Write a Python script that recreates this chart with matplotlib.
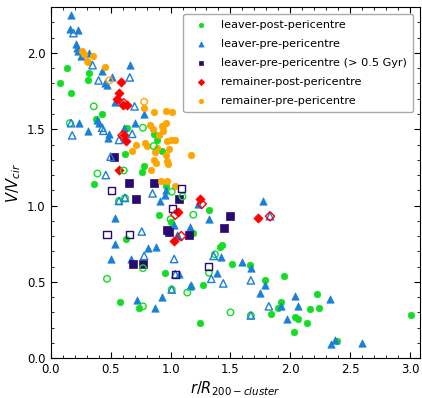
import matplotlib
matplotlib.use('Agg')
import matplotlib.pyplot as plt
from matplotlib.ticker import MultipleLocator


# ---------------------------------------------------------------------------- #
#                                     Data                                     #
# ---------------------------------------------------------------------------- #
# leaver-post-pericentre
lpost_x = [0.08, 0.14, 0.17, 0.32, 0.31, 0.43, 0.38, 0.36, 0.62, 0.64, 0.78, 0.76,
           0.86, 0.89, 0.93, 0.96, 0.90, 1.00, 1.32, 1.19, 0.63, 1.41, 0.58, 0.74,
           0.95, 1.43, 1.51, 1.66, 1.27, 1.25, 1.79, 1.95, 1.92, 1.90, 1.84, 2.04,
           2.06, 2.03, 2.16, 2.14, 2.22, 2.24, 2.39, 3.01]
lpost_y = [1.80, 1.90, 1.74, 1.87, 1.82, 1.60, 1.57, 1.14, 1.34, 1.51, 1.26, 1.22,
           1.47, 1.43, 1.36, 1.13, 0.94, 0.89, 0.97, 0.82, 0.78, 0.73, 0.37, 0.33,
           0.56, 0.74, 0.62, 0.61, 0.48, 0.23, 0.51, 0.54, 0.37, 0.33, 0.29, 0.27,
           0.26, 0.17, 0.32, 0.23, 0.42, 0.33, 0.11, 0.28]
lpost_open_x = [0.36, 0.77, 0.86, 0.39, 0.61, 1.01, 1.19, 1.00, 0.62, 1.10, 0.16,
                0.57, 0.47, 0.77, 0.77, 1.01, 1.14, 1.37, 1.32, 1.50, 1.67]
lpost_open_y = [1.65, 1.51, 1.39, 1.21, 1.23, 1.09, 0.94, 0.91, 1.05, 1.06, 1.54,
                1.03, 0.52, 0.59, 0.34, 0.45, 0.43, 0.68, 0.56, 0.30, 0.28]

# leaver-pre-pericentre
lpre_x = [0.17, 0.16, 0.23, 0.21, 0.22, 0.23, 0.25, 0.32, 0.43, 0.51, 0.45, 0.47,
          0.66, 0.54, 0.78, 0.24, 0.31, 0.39, 0.40, 0.49, 0.48, 0.61, 0.70, 0.54,
          0.91, 0.95, 0.96, 1.23, 1.32, 1.03, 1.16, 1.06, 0.81, 0.88, 1.77, 0.54,
          0.50, 0.67, 1.07, 0.72, 0.93, 0.87, 1.05, 1.16, 1.42, 1.39, 1.17, 1.60,
          1.67, 1.75, 1.79, 1.92, 1.97, 2.04, 2.06, 2.33, 2.37, 2.34, 2.60]
lpre_y = [2.25, 2.16, 2.15, 2.06, 2.03, 2.01, 1.98, 2.00, 1.88, 1.84, 1.80, 1.79,
          1.92, 1.68, 1.60, 1.54, 1.49, 1.56, 1.54, 1.47, 1.44, 1.51, 1.54, 0.92,
          1.03, 1.07, 1.10, 1.01, 0.91, 0.87, 0.86, 0.80, 0.72, 0.73, 1.03, 0.75,
          0.65, 0.65, 0.55, 0.38, 0.40, 0.33, 0.81, 0.47, 0.66, 0.56, 0.48, 0.63,
          0.59, 0.43, 0.48, 0.34, 0.26, 0.41, 0.34, 0.39, 0.12, 0.09, 0.10]
lpre_open_x = [0.19, 0.35, 0.40, 0.66, 0.70, 0.17, 0.18, 0.43, 0.44, 0.57, 0.50,
               0.46, 0.57, 0.62, 0.68, 0.85, 0.76, 0.78, 1.03, 1.36, 1.01, 1.04,
               1.34, 1.44, 1.67, 1.82, 1.67, 1.83]
lpre_open_y = [2.13, 1.92, 1.82, 1.84, 1.65, 1.54, 1.46, 1.51, 1.49, 1.43, 1.32,
               1.20, 1.03, 1.05, 1.47, 1.08, 0.83, 0.67, 0.65, 0.67, 0.45, 0.55,
               0.52, 0.49, 0.51, 0.34, 0.28, 0.93]

# leaver-pre-pericentre (> 0.5 Gyr)
lold_x = [0.53, 0.65, 0.86, 0.71, 1.07, 0.97, 0.99, 0.69, 0.77, 1.50, 1.45, 1.15]
lold_y = [1.32, 1.15, 1.15, 1.04, 1.04, 0.84, 0.83, 0.62, 0.62, 0.93, 0.85, 0.81]
lold_open_x = [0.51, 1.09, 1.02, 0.47, 0.66, 1.04, 1.32]
lold_open_y = [1.10, 1.11, 0.98, 0.81, 0.81, 0.55, 0.60]

# remainer-post-pericentre
rpost_x = [0.59, 0.57, 0.55, 0.60, 0.64, 0.61, 0.63, 0.57, 1.25, 1.06, 1.03, 1.73]
rpost_y = [1.81, 1.74, 1.70, 1.66, 1.66, 1.46, 1.42, 1.23, 1.04, 0.96, 0.77, 0.92]
rpost_open_x = [0.61, 0.60, 1.26, 1.04, 1.09, 1.83]
rpost_open_y = [1.67, 1.46, 1.01, 0.94, 0.80, 0.93]

# remainer-pre-pericentre
rpre_x = [0.26, 0.28, 0.30, 0.31, 0.35, 0.45, 0.78, 0.86, 0.96, 1.01, 0.96, 0.94,
          0.83, 0.85, 0.93, 0.94, 0.90, 0.71, 0.79, 0.80, 0.89, 0.97, 1.00, 1.04,
          0.99, 0.68, 0.87, 0.96, 0.86, 0.88, 0.97, 0.98, 1.17, 0.84, 0.92, 0.97,
          1.04]
rpre_y = [2.01, 1.99, 1.95, 1.94, 1.98, 1.91, 1.64, 1.61, 1.62, 1.61, 1.54, 1.52,
          1.53, 1.50, 1.52, 1.49, 1.46, 1.40, 1.41, 1.39, 1.38, 1.42, 1.43, 1.43,
          1.37, 1.36, 1.35, 1.33, 1.30, 1.28, 1.29, 1.27, 1.33, 1.23, 1.16, 1.16,
          1.13]
rpre_open_x = [0.49, 0.78]
rpre_open_y = [1.82, 1.68]


# ---------------------------------------------------------------------------- #
#                                   plotting                                   #
# ---------------------------------------------------------------------------- #
GREEN = '#11dd22'
BLUE = '#1a7fd6'
NAVY = '#2a0a72'
RED = '#ff0000'
ORANGE = '#ffa500'

figure = plt.figure(figsize=(4.22, 3.98), dpi=100)
axes = figure.add_axes([0.12, 0.1, 0.875, 0.882])

series = [
    (lpost_x, lpost_y, lpost_open_x, lpost_open_y, GREEN, 'o', 22, 'leaver-post-pericentre'),
    (lpre_x, lpre_y, lpre_open_x, lpre_open_y, BLUE, '^', 28, 'leaver-pre-pericentre'),
    (lold_x, lold_y, lold_open_x, lold_open_y, NAVY, 's', 26, 'leaver-pre-pericentre (> 0.5 Gyr)'),
    (rpost_x, rpost_y, rpost_open_x, rpost_open_y, RED, 'D', 22, 'remainer-post-pericentre'),
    (rpre_x, rpre_y, rpre_open_x, rpre_open_y, ORANGE, 'o', 22, 'remainer-pre-pericentre'),
]

for x, y, ox, oy, col, mk, s, lab in series:
    axes.scatter(x, y, s=s, marker=mk, c=col, edgecolors=col, linewidths=0.5,
                 label=lab, zorder=2)
for x, y, ox, oy, col, mk, s, lab in series:
    axes.scatter(ox, oy, s=s, marker=mk, facecolors='none', edgecolors=col,
                 linewidths=1.0, zorder=3)

axes.set_xlim(0, 3.08)
axes.set_ylim(0, 2.3)
axes.xaxis.set_major_locator(MultipleLocator(0.5))
axes.xaxis.set_minor_locator(MultipleLocator(0.1))
axes.yaxis.set_major_locator(MultipleLocator(0.5))
axes.yaxis.set_minor_locator(MultipleLocator(0.1))
axes.tick_params(which='both', direction='in', top=True, right=True, labelsize=8.5)
axes.tick_params(which='major', length=4)
axes.tick_params(which='minor', length=2)

axes.set_xlabel(r'$r/R_{200-cluster}$', fontsize=10.5, labelpad=2)
axes.set_ylabel(r'$V/V_{cir}$', fontsize=10.5, labelpad=3)

axes.legend(loc='upper right', fontsize=8.1, labelspacing=0.8, markerscale=0.7,
            handletextpad=0.8, borderpad=0.55, borderaxespad=0.6, framealpha=1.0,
            edgecolor='#aaaaaa')

figure.savefig('out.png', dpi=100)
